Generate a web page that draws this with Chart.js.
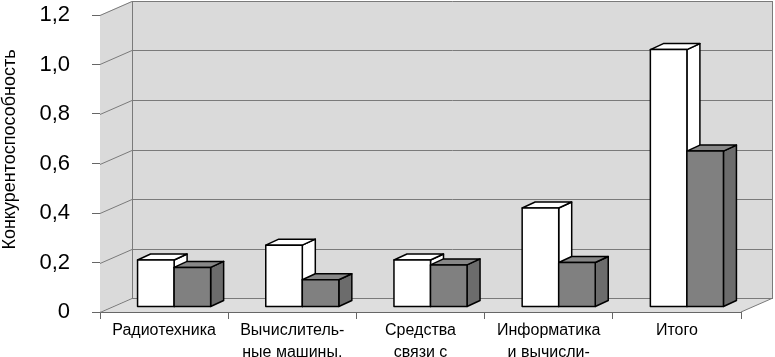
<!DOCTYPE html>
<html>
<head>
<meta charset="utf-8">
<script src="https://cdn.jsdelivr.net/npm/chart.js@4/dist/chart.umd.min.js"></script>
<style>
  html, body { margin: 0; padding: 0; background: #fff; }
  #wrap { width: 775px; height: 357px; }
</style>
</head>
<body>
<div id="wrap"><canvas id="chart"></canvas></div>
<script>
const categories = ['Радиотехника', ['Вычислитель-', 'ные машины,'], ['Средства', 'связи с'], ['Информатика', 'и вычисли-'], 'Итого'];
const seriesWhite = [0.19, 0.25, 0.19, 0.40, 1.04];
const seriesGray = [0.16, 0.11, 0.17, 0.18, 0.63];
const yTicks = [0, 0.2, 0.4, 0.6, 0.8, 1.0, 1.2];
const yTitle = 'Конкурентоспособность';

const FONT = 'Liberation Sans';
const WALL = { x: 32, y: -14 };     // how far the back wall sits behind the axes
const SHIFT = { x: 10, y: -5 };     // bars stand a little behind the front plane
const DEPTH = { x: 13, y: -6 };     // depth of one bar

function poly(ctx, pts) {
    ctx.beginPath();
    ctx.moveTo(pts[0][0], pts[0][1]);
    for (let i = 1; i < pts.length; i++) ctx.lineTo(pts[i][0], pts[i][1]);
    ctx.closePath();
}

function line(ctx, x1, y1, x2, y2) {
    ctx.beginPath();
    ctx.moveTo(x1, y1);
    ctx.lineTo(x2, y2);
    ctx.stroke();
}

// walls, floor and the 3d boxes
const box3d = {
    id: 'box3d',
    beforeDatasetsDraw(chart) {
        const { ctx, chartArea: a, scales: { y } } = chart;
        const wx = WALL.x, wy = WALL.y;
        ctx.save();
        ctx.fillStyle = '#dadada';
        poly(ctx, [[a.left, a.bottom], [a.left, a.top], [a.left + wx, a.top + wy], [a.left + wx, a.bottom + wy]]);
        ctx.fill();
        ctx.fillRect(a.left + wx, a.top + wy, a.right - a.left, a.bottom - a.top);
        ctx.fillStyle = '#dedede';
        poly(ctx, [[a.left, a.bottom], [a.right, a.bottom], [a.right + wx, a.bottom + wy], [a.left + wx, a.bottom + wy]]);
        ctx.fill();

        ctx.strokeStyle = '#7a7a7a';
        ctx.lineWidth = 1;
        yTicks.forEach(v => {
            const py = Math.round(y.getPixelForValue(v)) + 0.5;
            line(ctx, a.left, py, a.left + wx, py + wy);
            line(ctx, a.left + wx, py + wy, a.right + wx, py + wy);
        });
        line(ctx, a.left + wx + 0.5, a.top + wy, a.left + wx + 0.5, a.bottom + wy);
        line(ctx, a.right + wx - 0.5, a.top + wy, a.right + wx - 0.5, a.bottom + wy);
        line(ctx, a.right, a.bottom, a.right + wx, a.bottom + wy);

        // boxes, category by category so the right box hides the left one's side
        const metas = [0, 1].map(i => chart.getDatasetMeta(i));
        const fills = [
            { front: '#ffffff', top: '#ffffff', side: '#ffffff' },
            { front: '#808080', top: '#878787', side: '#6c6c6c' }
        ];
        ctx.strokeStyle = '#000';
        ctx.lineWidth = 1.5;
        ctx.lineJoin = 'round';
        categories.forEach((c, i) => {
            metas.forEach((meta, d) => {
                const el = meta.data[i];
                const L = el.x - el.width / 2 + SHIFT.x;
                const R = el.x + el.width / 2 + SHIFT.x;
                const T = el.y + SHIFT.y;
                const B = el.base + SHIFT.y;
                const dx = DEPTH.x, dy = DEPTH.y;
                ctx.fillStyle = fills[d].side;
                poly(ctx, [[R, T], [R + dx, T + dy], [R + dx, B + dy], [R, B]]);
                ctx.fill(); ctx.stroke();
                ctx.fillStyle = fills[d].top;
                poly(ctx, [[L, T], [L + dx, T + dy], [R + dx, T + dy], [R, T]]);
                ctx.fill(); ctx.stroke();
                ctx.fillStyle = fills[d].front;
                poly(ctx, [[L, T], [R, T], [R, B], [L, B]]);
                ctx.fill(); ctx.stroke();
            });
        });
        ctx.restore();
        return false;
    },
    // axis title, centred on the back wall like the original
    afterDraw(chart) {
        const { ctx, chartArea: a } = chart;
        ctx.save();
        ctx.translate(10, (a.top + a.bottom) / 2 + WALL.y);
        ctx.rotate(-Math.PI / 2);
        ctx.font = '18px "' + FONT + '"';
        ctx.fillStyle = '#000';
        ctx.textAlign = 'center';
        ctx.textBaseline = 'middle';
        ctx.fillText(yTitle, 0, 0);
        ctx.restore();
    }
};

new Chart(document.getElementById('chart'), {
    type: 'bar',
    data: {
        labels: categories,
        datasets: [
            { label: 'A', data: seriesWhite, backgroundColor: '#ffffff', borderColor: '#000', borderWidth: 1 },
            { label: 'B', data: seriesGray, backgroundColor: '#808080', borderColor: '#000', borderWidth: 1 }
        ]
    },
    options: {
        responsive: true,
        maintainAspectRatio: false,
        animation: false,
        events: [],
        layout: { padding: { top: 15, right: 34, left: 0, bottom: 0 } },
        datasets: { bar: { categoryPercentage: 0.57, barPercentage: 1 } },
        plugins: { legend: { display: false }, tooltip: { enabled: false } },
        scales: {
            x: {
                grid: { drawOnChartArea: false, drawTicks: true, tickLength: 7, color: '#666', offset: true },
                border: { display: true, color: '#666' },
                ticks: { color: '#000', font: { family: FONT, size: 16, lineHeight: 1.35 }, padding: 1, maxRotation: 0, autoSkip: false },
                afterFit: s => { s.height = 45; s.paddingLeft = 0; s.paddingRight = 0; }
            },
            y: {
                min: 0,
                max: 1.2,
                afterBuildTicks: s => { s.ticks = yTicks.map(v => ({ value: v })); },
                grid: { drawOnChartArea: false, drawTicks: true, tickLength: 8, color: '#666' },
                border: { display: true, color: '#666' },
                ticks: {
                    color: '#000',
                    font: { family: FONT, size: 22 },
                    padding: 22,
                    callback: v => v === 0 ? '0' : v.toFixed(1).replace('.', ',')
                },
                afterFit: s => { s.width = 100; s.paddingTop = 0; s.paddingBottom = 0; }
            }
        }
    },
    plugins: [box3d]
});
</script>
</body>
</html>
